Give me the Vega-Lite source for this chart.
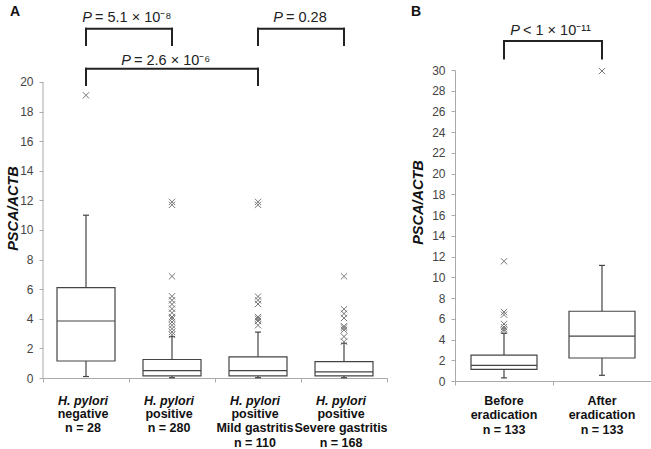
{
  "$schema": "https://vega.github.io/schema/vega-lite/v6.json",
  "background": "white",
  "padding": {"left": 5, "top": 4, "right": 0, "bottom": 0},
  "spacing": 22,
  "config": {
    "view": {"stroke": null},
    "font": "Liberation Sans",
    "axis": {
      "labelFont": "Liberation Sans",
      "labelFontSize": 12,
      "labelColor": "#444",
      "labelPadding": 6,
      "labelOverlap": false,
      "labelBound": false,
      "domainColor": "#aaa",
      "tickColor": "#aaa",
      "tickSize": 4,
      "grid": false,
      "titleFont": "Liberation Sans",
      "titleFontSize": 14.5,
      "titleFontWeight": "bold",
      "titleFontStyle": "italic",
      "titleColor": "#111"
    }
  },
  "datasets": {
    "boxes": [
      {"panel": "A", "group": "neg", "lo": 0.1, "q1": 1.15, "med": 3.85, "q3": 6.1, "hi": 11.0},
      {"panel": "A", "group": "pos", "lo": 0.02, "q1": 0.15, "med": 0.5, "q3": 1.25, "hi": 2.8},
      {"panel": "A", "group": "mild", "lo": 0.02, "q1": 0.15, "med": 0.5, "q3": 1.43, "hi": 3.1},
      {"panel": "A", "group": "severe", "lo": 0.02, "q1": 0.15, "med": 0.42, "q3": 1.1, "hi": 2.35},
      {"panel": "B", "group": "before", "lo": 0.3, "q1": 1.12, "med": 1.5, "q3": 2.5, "hi": 4.6},
      {"panel": "B", "group": "after", "lo": 0.55, "q1": 2.22, "med": 4.32, "q3": 6.73, "hi": 11.15}
    ],
    "outliers": [
      {"panel": "A", "group": "neg", "value": 19.1},
      {"panel": "A", "group": "pos", "value": 11.9},
      {"panel": "A", "group": "pos", "value": 11.7},
      {"panel": "A", "group": "pos", "value": 6.87},
      {"panel": "A", "group": "pos", "value": 5.52},
      {"panel": "A", "group": "pos", "value": 5.25},
      {"panel": "A", "group": "pos", "value": 4.98},
      {"panel": "A", "group": "pos", "value": 4.68},
      {"panel": "A", "group": "pos", "value": 4.41},
      {"panel": "A", "group": "pos", "value": 4.12},
      {"panel": "A", "group": "pos", "value": 4.0},
      {"panel": "A", "group": "pos", "value": 3.78},
      {"panel": "A", "group": "pos", "value": 3.56},
      {"panel": "A", "group": "pos", "value": 3.33},
      {"panel": "A", "group": "pos", "value": 3.11},
      {"panel": "A", "group": "pos", "value": 2.92},
      {"panel": "A", "group": "mild", "value": 11.9},
      {"panel": "A", "group": "mild", "value": 11.7},
      {"panel": "A", "group": "mild", "value": 5.5},
      {"panel": "A", "group": "mild", "value": 5.25},
      {"panel": "A", "group": "mild", "value": 5.0},
      {"panel": "A", "group": "mild", "value": 4.12},
      {"panel": "A", "group": "mild", "value": 4.0},
      {"panel": "A", "group": "mild", "value": 3.85},
      {"panel": "A", "group": "mild", "value": 3.56},
      {"panel": "A", "group": "severe", "value": 6.87},
      {"panel": "A", "group": "severe", "value": 4.65},
      {"panel": "A", "group": "severe", "value": 4.35},
      {"panel": "A", "group": "severe", "value": 4.05},
      {"panel": "A", "group": "severe", "value": 3.5},
      {"panel": "A", "group": "severe", "value": 3.4},
      {"panel": "A", "group": "severe", "value": 3.25},
      {"panel": "A", "group": "severe", "value": 2.8},
      {"panel": "A", "group": "severe", "value": 2.45},
      {"panel": "B", "group": "before", "value": 11.55},
      {"panel": "B", "group": "before", "value": 6.65},
      {"panel": "B", "group": "before", "value": 6.4},
      {"panel": "B", "group": "before", "value": 5.5},
      {"panel": "B", "group": "before", "value": 5.2},
      {"panel": "B", "group": "before", "value": 5.0},
      {"panel": "B", "group": "before", "value": 4.85},
      {"panel": "B", "group": "after", "value": 29.9}
    ],
    "brackets": [
      {"panel": "A", "key": "p1", "from": "neg", "to": "pos", "lo": 22.5, "hi": 23.6, "rest": "= 5.1 × 10⁻⁸"},
      {"panel": "A", "key": "p2", "from": "mild", "to": "severe", "lo": 22.5, "hi": 23.6, "rest": "= 0.28"},
      {"panel": "A", "key": "p3", "from": "neg", "to": "mild", "lo": 19.8, "hi": 20.9, "rest": "= 2.6 × 10⁻⁶"},
      {"panel": "B", "key": "p4", "from": "before", "to": "after", "lo": 31.1, "hi": 32.8, "rest": "< 1 × 10⁻¹¹"}
    ],
    "labels": [
      {"panel": "A", "group": "neg", "head": "H. pylori", "body": "negative\nn = 28"},
      {"panel": "A", "group": "pos", "head": "H. pylori", "body": "positive\nn = 280"},
      {"panel": "A", "group": "mild", "head": "H. pylori", "body": "positive\nMild gastritis\nn = 110"},
      {"panel": "A", "group": "severe", "head": "H. pylori", "body": "positive\nSevere gastritis\nn = 168"},
      {"panel": "B", "group": "before", "head": "Before", "body": "eradication\nn = 133"},
      {"panel": "B", "group": "after", "head": "After", "body": "eradication\nn = 133"}
    ],
    "panels": [
      {"panel": "A", "group": "neg", "letter": "A"},
      {"panel": "B", "group": "before", "letter": "B"}
    ]
  },
  "hconcat": [
    {
      "width": 344,
      "height": 308,
      "encoding": {
        "x": {
          "field": "group",
          "type": "nominal",
          "scale": {"type": "band", "domain": ["neg", "pos", "mild", "severe"], "paddingInner": 0, "paddingOuter": 0},
          "axis": {"title": null, "labels": false, "tickBand": "extent"}
        }
      },
      "layer": [
        {
          "data": {"name": "boxes"},
          "transform": [{"filter": "datum.panel === 'A'"}],
          "mark": {"type": "rule", "color": "#444", "strokeWidth": 1.2},
          "encoding": {
            "y": {
              "field": "lo",
              "type": "quantitative",
              "scale": {"domain": [0, 20.81], "nice": false, "zero": false},
              "axis": {
                "tickCount": 10,
                "labelOverlap": false,
                "domain": false,
                "title": "PSCA/ACTB",
                "titleX": -30,
                "titleY": 138,
                "titleAngle": -90,
                "titleAlign": "center",
                "titleBaseline": "middle"
              }
            },
            "y2": {"field": "hi"}
          }
        },
        {
          "data": {"name": "boxes"},
          "transform": [{"filter": "datum.panel === 'A'"}],
          "mark": {"type": "bar", "size": 58, "fill": "white", "stroke": "#444", "strokeWidth": 1.2},
          "encoding": {
            "y": {"field": "q1", "type": "quantitative"},
            "y2": {"field": "q3"}
          }
        },
        {
          "data": {"name": "boxes"},
          "transform": [{"filter": "datum.panel === 'A'"}],
          "mark": {"type": "tick", "size": 58, "thickness": 1.2, "color": "#444", "opacity": 1},
          "encoding": {"y": {"field": "med", "type": "quantitative"}}
        },
        {
          "data": {"name": "boxes"},
          "transform": [{"filter": "datum.panel === 'A'"}],
          "mark": {"type": "tick", "size": 6, "thickness": 1.2, "color": "#444", "opacity": 1},
          "encoding": {"y": {"field": "lo", "type": "quantitative"}}
        },
        {
          "data": {"name": "boxes"},
          "transform": [{"filter": "datum.panel === 'A'"}],
          "mark": {"type": "tick", "size": 6, "thickness": 1.2, "color": "#444", "opacity": 1},
          "encoding": {"y": {"field": "hi", "type": "quantitative"}}
        },
        {
          "data": {"name": "outliers"},
          "transform": [{"filter": "datum.panel === 'A'"}],
          "mark": {"type": "point", "shape": "M-1,-1L1,1M-1,1L1,-1", "size": 40, "filled": false, "stroke": "#777", "strokeWidth": 1, "opacity": 1},
          "encoding": {"y": {"field": "value", "type": "quantitative"}}
        },
        {
          "data": {"name": "brackets"},
          "transform": [{"filter": "datum.panel === 'A'"}],
          "mark": {"type": "rule", "color": "#222", "strokeWidth": 2, "strokeCap": "square"},
          "encoding": {
            "x": {"field": "from", "type": "nominal"},
            "x2": {"field": "to"},
            "y": {"field": "hi", "type": "quantitative"}
          }
        },
        {
          "data": {"name": "brackets"},
          "transform": [{"filter": "datum.panel === 'A'"}],
          "mark": {"type": "rule", "color": "#222", "strokeWidth": 2, "strokeCap": "square"},
          "encoding": {
            "x": {"field": "from", "type": "nominal"},
            "y": {"field": "lo", "type": "quantitative"},
            "y2": {"field": "hi"}
          }
        },
        {
          "data": {"name": "brackets"},
          "transform": [{"filter": "datum.panel === 'A'"}],
          "mark": {"type": "rule", "color": "#222", "strokeWidth": 2, "strokeCap": "square"},
          "encoding": {
            "x": {"field": "to", "type": "nominal"},
            "y": {"field": "lo", "type": "quantitative"},
            "y2": {"field": "hi"}
          }
        },
        {
          "data": {"name": "brackets"},
          "transform": [{"filter": "datum.key === 'p1'"}],
          "mark": {"type": "text", "text": "P", "fontStyle": "italic", "fontSize": 14.5, "color": "#222", "align": "right", "baseline": "alphabetic", "dx": 6, "dy": -7},
          "encoding": {
            "x": {"field": "from", "type": "nominal"},
            "y": {"field": "hi", "type": "quantitative"}
          }
        },
        {
          "data": {"name": "brackets"},
          "transform": [{"filter": "datum.key === 'p1'"}],
          "mark": {"type": "text", "fontSize": 14.5, "color": "#222", "align": "left", "baseline": "alphabetic", "dx": 9, "dy": -7},
          "encoding": {
            "x": {"field": "from", "type": "nominal"},
            "y": {"field": "hi", "type": "quantitative"},
            "text": {"field": "rest"}
          }
        },
        {
          "data": {"name": "brackets"},
          "transform": [{"filter": "datum.key === 'p2'"}],
          "mark": {"type": "text", "text": "P", "fontStyle": "italic", "fontSize": 14.5, "color": "#222", "align": "right", "baseline": "alphabetic", "dx": 25, "dy": -7},
          "encoding": {
            "x": {"field": "from", "type": "nominal"},
            "y": {"field": "hi", "type": "quantitative"}
          }
        },
        {
          "data": {"name": "brackets"},
          "transform": [{"filter": "datum.key === 'p2'"}],
          "mark": {"type": "text", "fontSize": 14.5, "color": "#222", "align": "left", "baseline": "alphabetic", "dx": 28, "dy": -7},
          "encoding": {
            "x": {"field": "from", "type": "nominal"},
            "y": {"field": "hi", "type": "quantitative"},
            "text": {"field": "rest"}
          }
        },
        {
          "data": {"name": "brackets"},
          "transform": [{"filter": "datum.key === 'p3'"}],
          "mark": {"type": "text", "text": "P", "fontStyle": "italic", "fontSize": 14.5, "color": "#222", "align": "right", "baseline": "alphabetic", "dx": 45, "dy": -3.5},
          "encoding": {
            "x": {"field": "from", "type": "nominal"},
            "y": {"field": "hi", "type": "quantitative"}
          }
        },
        {
          "data": {"name": "brackets"},
          "transform": [{"filter": "datum.key === 'p3'"}],
          "mark": {"type": "text", "fontSize": 14.5, "color": "#222", "align": "left", "baseline": "alphabetic", "dx": 48, "dy": -3.5},
          "encoding": {
            "x": {"field": "from", "type": "nominal"},
            "y": {"field": "hi", "type": "quantitative"},
            "text": {"field": "rest"}
          }
        },
        {
          "data": {"name": "labels"},
          "transform": [{"filter": "datum.panel === 'A'"}],
          "mark": {"type": "text", "fontSize": 12.5, "fontWeight": "bold", "fontStyle": "italic", "color": "#111", "baseline": "middle", "dx": -3, "dy": 23},
          "encoding": {
            "y": {"datum": 0, "type": "quantitative"},
            "text": {"field": "head"}
          }
        },
        {
          "data": {"name": "labels"},
          "transform": [{"filter": "datum.panel === 'A'"}],
          "mark": {"type": "text", "fontSize": 12.5, "fontWeight": "bold", "color": "#111", "baseline": "top", "lineBreak": "\n", "lineHeight": 14.3, "dx": -3, "dy": 30},
          "encoding": {
            "y": {"datum": 0, "type": "quantitative"},
            "text": {"field": "body"}
          }
        },
        {
          "data": {"name": "panels"},
          "transform": [{"filter": "datum.panel === 'A'"}],
          "mark": {"type": "rule", "color": "#aaa", "strokeWidth": 1},
          "encoding": {
            "x": {"field": "group", "type": "nominal", "bandPosition": 0},
            "y": {"datum": 0, "type": "quantitative"},
            "y2": {"datum": 20}
          }
        },
        {
          "data": {"name": "panels"},
          "transform": [{"filter": "datum.panel === 'A'"}],
          "mark": {"type": "text", "fontSize": 14, "fontWeight": "bold", "color": "#111", "align": "center", "baseline": "middle", "dx": -28},
          "encoding": {
            "x": {"field": "group", "type": "nominal", "bandPosition": 0},
            "y": {"datum": 24.7, "type": "quantitative"},
            "text": {"field": "letter"}
          }
        }
      ]
    },
    {
      "width": 196,
      "height": 311,
      "encoding": {
        "x": {
          "field": "group",
          "type": "nominal",
          "scale": {"type": "band", "domain": ["before", "after"], "paddingInner": 0, "paddingOuter": 0},
          "axis": {"title": null, "labels": false, "tickBand": "extent"}
        }
      },
      "layer": [
        {
          "data": {"name": "boxes"},
          "transform": [{"filter": "datum.panel === 'B'"}],
          "mark": {"type": "rule", "color": "#444", "strokeWidth": 1.2},
          "encoding": {
            "y": {
              "field": "lo",
              "type": "quantitative",
              "scale": {"domain": [0, 30], "nice": false, "zero": false},
              "axis": {
                "tickCount": 15,
                "labelOverlap": false,
                "title": "PSCA/ACTB",
                "titleX": -36.5,
                "titleY": 132,
                "titleAngle": -90,
                "titleAlign": "center",
                "titleBaseline": "middle"
              }
            },
            "y2": {"field": "hi"}
          }
        },
        {
          "data": {"name": "boxes"},
          "transform": [{"filter": "datum.panel === 'B'"}],
          "mark": {"type": "bar", "size": 66, "fill": "white", "stroke": "#444", "strokeWidth": 1.2},
          "encoding": {
            "y": {"field": "q1", "type": "quantitative"},
            "y2": {"field": "q3"}
          }
        },
        {
          "data": {"name": "boxes"},
          "transform": [{"filter": "datum.panel === 'B'"}],
          "mark": {"type": "tick", "size": 66, "thickness": 1.2, "color": "#444", "opacity": 1},
          "encoding": {"y": {"field": "med", "type": "quantitative"}}
        },
        {
          "data": {"name": "boxes"},
          "transform": [{"filter": "datum.panel === 'B'"}],
          "mark": {"type": "tick", "size": 6, "thickness": 1.2, "color": "#444", "opacity": 1},
          "encoding": {"y": {"field": "lo", "type": "quantitative"}}
        },
        {
          "data": {"name": "boxes"},
          "transform": [{"filter": "datum.panel === 'B'"}],
          "mark": {"type": "tick", "size": 6, "thickness": 1.2, "color": "#444", "opacity": 1},
          "encoding": {"y": {"field": "hi", "type": "quantitative"}}
        },
        {
          "data": {"name": "outliers"},
          "transform": [{"filter": "datum.panel === 'B'"}],
          "mark": {"type": "point", "shape": "M-1,-1L1,1M-1,1L1,-1", "size": 40, "filled": false, "stroke": "#777", "strokeWidth": 1, "opacity": 1},
          "encoding": {"y": {"field": "value", "type": "quantitative"}}
        },
        {
          "data": {"name": "brackets"},
          "transform": [{"filter": "datum.panel === 'B'"}],
          "mark": {"type": "rule", "color": "#222", "strokeWidth": 2, "strokeCap": "square"},
          "encoding": {
            "x": {"field": "from", "type": "nominal"},
            "x2": {"field": "to"},
            "y": {"field": "hi", "type": "quantitative"}
          }
        },
        {
          "data": {"name": "brackets"},
          "transform": [{"filter": "datum.panel === 'B'"}],
          "mark": {"type": "rule", "color": "#222", "strokeWidth": 2, "strokeCap": "square"},
          "encoding": {
            "x": {"field": "from", "type": "nominal"},
            "y": {"field": "lo", "type": "quantitative"},
            "y2": {"field": "hi"}
          }
        },
        {
          "data": {"name": "brackets"},
          "transform": [{"filter": "datum.panel === 'B'"}],
          "mark": {"type": "rule", "color": "#222", "strokeWidth": 2, "strokeCap": "square"},
          "encoding": {
            "x": {"field": "to", "type": "nominal"},
            "y": {"field": "lo", "type": "quantitative"},
            "y2": {"field": "hi"}
          }
        },
        {
          "data": {"name": "brackets"},
          "transform": [{"filter": "datum.key === 'p4'"}],
          "mark": {"type": "text", "text": "P", "fontStyle": "italic", "fontSize": 14.5, "color": "#222", "align": "right", "baseline": "alphabetic", "dx": 16, "dy": -6},
          "encoding": {
            "x": {"field": "from", "type": "nominal"},
            "y": {"field": "hi", "type": "quantitative"}
          }
        },
        {
          "data": {"name": "brackets"},
          "transform": [{"filter": "datum.key === 'p4'"}],
          "mark": {"type": "text", "fontSize": 14.5, "color": "#222", "align": "left", "baseline": "alphabetic", "dx": 19, "dy": -6},
          "encoding": {
            "x": {"field": "from", "type": "nominal"},
            "y": {"field": "hi", "type": "quantitative"},
            "text": {"field": "rest"}
          }
        },
        {
          "data": {"name": "labels"},
          "transform": [{"filter": "datum.panel === 'B'"}],
          "mark": {"type": "text", "fontSize": 12.5, "fontWeight": "bold", "color": "#111", "baseline": "middle", "dy": 20},
          "encoding": {
            "y": {"datum": 0, "type": "quantitative"},
            "text": {"field": "head"}
          }
        },
        {
          "data": {"name": "labels"},
          "transform": [{"filter": "datum.panel === 'B'"}],
          "mark": {"type": "text", "fontSize": 12.5, "fontWeight": "bold", "color": "#111", "baseline": "top", "lineBreak": "\n", "lineHeight": 14.5, "dy": 28},
          "encoding": {
            "y": {"datum": 0, "type": "quantitative"},
            "text": {"field": "body"}
          }
        },
        {
          "data": {"name": "panels"},
          "transform": [{"filter": "datum.panel === 'B'"}],
          "mark": {"type": "text", "fontSize": 14, "fontWeight": "bold", "color": "#111", "align": "center", "baseline": "middle", "dx": -39},
          "encoding": {
            "x": {"field": "group", "type": "nominal", "bandPosition": 0},
            "y": {"datum": 35.6, "type": "quantitative"},
            "text": {"field": "letter"}
          }
        }
      ]
    }
  ]
}
